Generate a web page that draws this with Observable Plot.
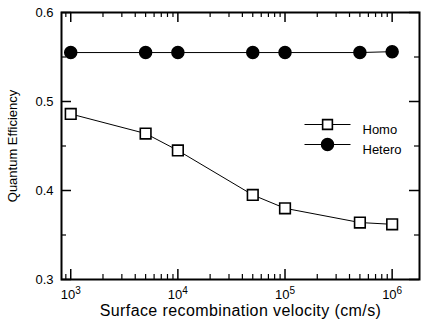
<!DOCTYPE html>
<html><head><meta charset="utf-8">
<script src="https://cdn.jsdelivr.net/npm/d3@7"></script>
<script src="https://cdn.jsdelivr.net/npm/@observablehq/plot@0.6"></script>
<style>
body{margin:0;background:#fff}
svg{font-family:"Liberation Sans",Arial,Helvetica,sans-serif}
</style>
</head><body><div id="chart"></div>
<script>
// ---- data ----
const velocity = [1e3, 5e3, 1e4, 5e4, 1e5, 5e5, 1e6];
const homo     = [0.486, 0.464, 0.445, 0.395, 0.380, 0.364, 0.362];
const hetero   = [0.555, 0.555, 0.555, 0.555, 0.555, 0.555, 0.556];
const seriesNames = ["Homo", "Hetero"];
const xMajorTicks = [1e3, 1e4, 1e5, 1e6];
const xTickExponents = ["3", "4", "5", "6"];
const xMinorTicks = [900,
  2e3,3e3,4e3,5e3,6e3,7e3,8e3,9e3,
  2e4,3e4,4e4,5e4,6e4,7e4,8e4,9e4,
  2e5,3e5,4e5,5e5,6e5,7e5,8e5,9e5];
const yMajorTicks = [0.3, 0.4, 0.5, 0.6];
const yMinorTicks = [0.35, 0.45, 0.55];
const xDomain = [820, 1.8e6];
const yDomain = [0.3, 0.6];
const xTitle = "Surface recombination velocity (cm/s)";
const yTitle = "Quantum Efficiency";

const homoData = velocity.map((v, i) => ({v, q: homo[i]}));
const heteroData = velocity.map((v, i) => ({v, q: hetero[i]}));

const lineSym = {draw(ctx) { ctx.moveTo(-23, 0); ctx.lineTo(23, 0); }};

const [x0, x1] = xDomain, [y0, y1] = yDomain;
const T = 10, t = 5;

const chart = Plot.plot({
  width: 421, height: 326,
  marginLeft: 61, marginRight: 2, marginTop: 12, marginBottom: 47,
  x: {type: "log", domain: xDomain, axis: null},
  y: {domain: yDomain, axis: null},
  style: {background: "#fff", color: "#000"},
  marks: [
    // ticks (inward)
    Plot.ruleX(xMajorTicks, {x: d => d, y1: y0, y2: y0, insetTop: -T, strokeWidth: 1.5}),
    Plot.ruleX(xMinorTicks, {x: d => d, y1: y0, y2: y0, insetTop: -t, strokeWidth: 1.2}),
    Plot.ruleX(xMajorTicks, {x: d => d, y1: y1, y2: y1, insetBottom: -T, strokeWidth: 1.5}),
    Plot.ruleX(xMinorTicks, {x: d => d, y1: y1, y2: y1, insetBottom: -t, strokeWidth: 1.2}),
    Plot.ruleY(yMajorTicks, {y: d => d, x1: x0, x2: x0, insetRight: -T, strokeWidth: 1.5}),
    Plot.ruleY(yMinorTicks, {y: d => d, x1: x0, x2: x0, insetRight: -t, strokeWidth: 1.2}),
    Plot.ruleY(yMajorTicks, {y: d => d, x1: x1, x2: x1, insetLeft: -T, strokeWidth: 1.5}),
    Plot.ruleY(yMinorTicks, {y: d => d, x1: x1, x2: x1, insetLeft: -t, strokeWidth: 1.2}),
    Plot.frame({stroke: "#000", strokeWidth: 2}),
    // tick labels
    Plot.text(xMajorTicks, {x: d => d, y: y0, dy: 15, text: (d, i) => "10^" + xTickExponents[i], fontSize: 13, fill: "#000"}),
    Plot.text(yMajorTicks, {x: x0, y: d => d, dx: -8, textAnchor: "end", text: d => d.toFixed(1), fontSize: 13, fill: "#000"}),
    // titles
    Plot.text([xTitle], {frameAnchor: "bottom", dy: 36, text: d => d, fontSize: 16, fill: "#000"}),
    Plot.text([yTitle], {frameAnchor: "left", dx: -49, rotate: -90, textAnchor: "middle", text: d => d, fontSize: 13, fill: "#000"}),
    // data
    Plot.line(homoData, {x: "v", y: "q", stroke: "#000", strokeWidth: 1}),
    Plot.dot(homoData, {x: "v", y: "q", symbol: "square", r: 6, fill: "#fff", stroke: "#000", strokeWidth: 1.6}),
    Plot.line(heteroData, {x: "v", y: "q", stroke: "#000", strokeWidth: 1}),
    Plot.dot(heteroData, {x: "v", y: "q", symbol: "circle", r: 6, fill: "#000", stroke: "#000"}),
    // legend
    Plot.dot([seriesNames[0]], {frameAnchor: "top-left", dx: 266, dy: 112, symbol: lineSym, r: 1, stroke: "#000", strokeWidth: 1}),
    Plot.dot([seriesNames[0]], {frameAnchor: "top-left", dx: 266, dy: 112, symbol: "square", r: 5.5, fill: "#fff", stroke: "#000", strokeWidth: 1.6}),
    Plot.text([seriesNames[0]], {frameAnchor: "top-left", dx: 301, dy: 112, text: d => d, textAnchor: "start", fontSize: 13, fill: "#000"}),
    Plot.dot([seriesNames[1]], {frameAnchor: "top-left", dx: 266, dy: 132, symbol: lineSym, r: 1, stroke: "#000", strokeWidth: 1}),
    Plot.dot([seriesNames[1]], {frameAnchor: "top-left", dx: 266, dy: 132, symbol: "circle", r: 6, fill: "#000", stroke: "#000"}),
    Plot.text([seriesNames[1]], {frameAnchor: "top-left", dx: 301, dy: 132, text: d => d, textAnchor: "start", fontSize: 13, fill: "#000"})
  ]
});

// superscript exponents on x tick labels; spacing of x title
d3.select(chart).selectAll("text").each(function() {
  const s = this.textContent;
  const m = /^10\^(\d+)$/.exec(s);
  if (m) {
    const el = d3.select(this);
    el.text("10");
    el.append("tspan").attr("dy", "-0.5em").attr("font-size", "10").text(m[1]);
  } else if (s === xTitle) {
    d3.select(this).attr("letter-spacing", "0.4");
  }
});

document.getElementById("chart").appendChild(chart);
</script>
</body></html>
